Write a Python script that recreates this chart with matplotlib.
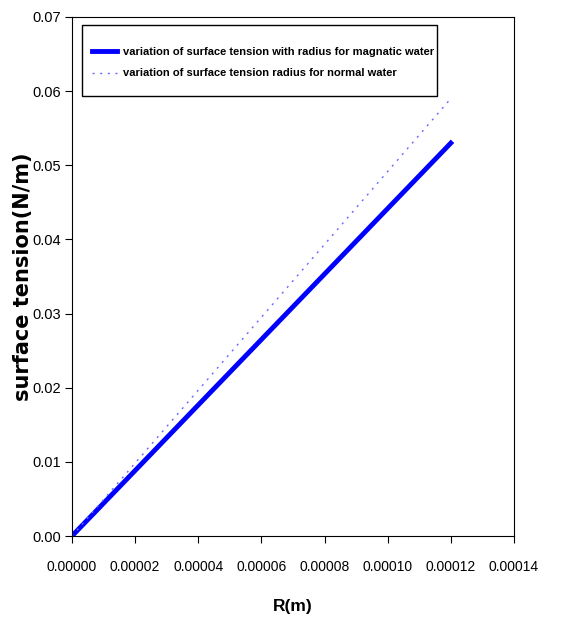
import matplotlib.pyplot as plt
from matplotlib.patches import Rectangle

plt.rcParams['font.family'] = ['Liberation Sans', 'DejaVu Sans']

r = [0.0, 0.00002, 0.00004, 0.00006, 0.00008, 0.00010, 0.00012]
st_magnetic = [0.0, 0.00883, 0.01767, 0.0265, 0.03533, 0.04417, 0.053]
st_normal = [0.0, 0.00983, 0.01967, 0.0295, 0.03933, 0.04917, 0.059]

xticks = [0.0, 0.00002, 0.00004, 0.00006, 0.00008, 0.00010, 0.00012, 0.00014]
yticks = [0.0, 0.01, 0.02, 0.03, 0.04, 0.05, 0.06, 0.07]

fig = plt.figure(figsize=(5.74, 6.25), dpi=100)
ax = fig.add_axes([0.1254, 0.1424, 0.770, 0.8304])

ax.plot(r, st_magnetic, color='#0000ff', lw=3.5,
        label='variation of surface tension with radius for magnatic water')
ax.plot(r, st_normal, color='#6a6aff', lw=1.0, ls=(0, (1.5, 4)),
        label='variation of surface tension radius for normal water')

ax.set_xlim(0, 0.00014)
ax.set_ylim(0, 0.07)
ax.set_xticks(xticks)
ax.set_xticklabels(['%.5f' % v for v in xticks])
ax.set_yticks(yticks)
ax.set_yticklabels(['%.2f' % v for v in yticks])
ax.tick_params(axis='x', direction='out', length=5, pad=12, labelsize=10)
ax.tick_params(axis='y', direction='out', length=5, pad=3, labelsize=10.5)

ax.set_xlabel('R(m)', fontsize=12.5, fontweight='bold', labelpad=18)
ax.set_ylabel('surface tension(N/m)', fontsize=15, fontweight='bold',
              family=['DejaVu Sans'])
ax.yaxis.set_label_coords(-0.089, 0.5)

# legend frame drawn separately so the padding can be uneven like the original
ax.add_patch(Rectangle((0.0226, 0.8478), 0.803, 0.1368, transform=ax.transAxes,
                       fill=True, facecolor='white', edgecolor='black', lw=1.0, zorder=4))
leg = ax.legend(loc='upper left', bbox_to_anchor=(0.045, 0.942), frameon=False,
                prop={'size': 8, 'weight': 'bold'}, borderpad=0, borderaxespad=0,
                handlelength=2.25, handletextpad=0.55, labelspacing=1.02)
leg.set_zorder(5)

fig.savefig('out.png', dpi=100)
